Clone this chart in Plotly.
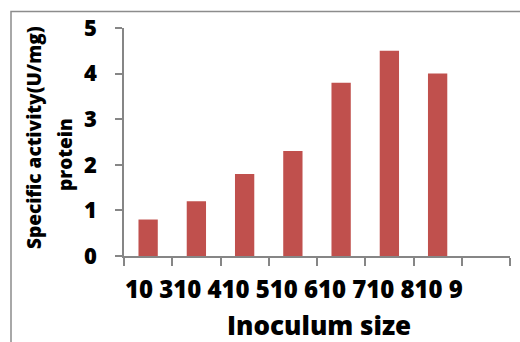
import plotly.graph_objects as go

categories = ["10 3", "10 4", "10 5", "10 6", "10 7", "10 8", "10 9", " "]
bar_categories = categories[:7]
activity = [0.8, 1.2, 1.8, 2.3, 3.8, 4.5, 4.0]
y_ticks = [0, 1, 2, 3, 4, 5]

FONT = "Open Sans"
WT = 800
AX = "#868686"

W, H = 520, 342
L, R, T, B = 124, 10, 28, 86
pw, ph = W - L - R, H - T - B

def px_x(px):
    return (px - L) / pw

def px_y(py):
    return (H - B - py) / ph

fig = go.Figure()
fig.add_trace(go.Bar(x=bar_categories, y=activity, marker=dict(color="#C0504D", line=dict(width=0))))

fig.update_layout(
    width=W, height=H,
    margin=dict(l=L, r=R, t=T, b=B),
    paper_bgcolor="white", plot_bgcolor="white",
    bargap=0.6,
    showlegend=False,
    font=dict(family=FONT, color="black"),
    xaxis=dict(
        type="category", categoryorder="array", categoryarray=categories,
        range=[-0.5, 7.5], tickson="boundaries", tickangle=0,
        showline=True, linecolor=AX, linewidth=1.5,
        ticks="outside", ticklen=8, tickcolor=AX, tickwidth=1.5,
        showgrid=False, zeroline=False,
        tickfont=dict(family=FONT, size=24, color="black", weight=WT),
        ticklabelshift=1, ticklabelstandoff=11,
    ),
    yaxis=dict(
        range=[0, 5], tickvals=y_ticks,
        showline=True, linecolor=AX, linewidth=1.5,
        ticks="outside", ticklen=7, tickcolor=AX, tickwidth=1.5,
        showgrid=False, zeroline=False,
        tickfont=dict(family=FONT, size=22, color="black", weight=WT),
        ticklabelstandoff=14,
    ),
    annotations=[
        dict(text="Inoculum size", xref="paper", yref="paper", x=px_x(319), y=px_y(325),
             xanchor="center", yanchor="middle", showarrow=False,
             font=dict(family=FONT, size=26, color="black", weight=WT)),
        dict(text="Specific activity(U/mg)", xref="paper", yref="paper",
             x=px_x(34), y=px_y(138), xanchor="center", yanchor="middle", showarrow=False,
             textangle=-90,
             font=dict(family=FONT, size=19, color="black", weight=WT)),
        dict(text="protein", xref="paper", yref="paper",
             x=px_x(65), y=px_y(155), xanchor="center", yanchor="middle", showarrow=False,
             textangle=-90,
             font=dict(family=FONT, size=19, color="black", weight=WT)),
    ],
    shapes=[
        dict(type="path", xref="paper", yref="paper",
             path=f"M {px_x(11)} {px_y(345)} L {px_x(11)} {px_y(11.5)} L {px_x(522)} {px_y(11.5)}",
             line=dict(color="#8c8c8c", width=1.5)),
    ],
)

fig.write_html("out.html")
